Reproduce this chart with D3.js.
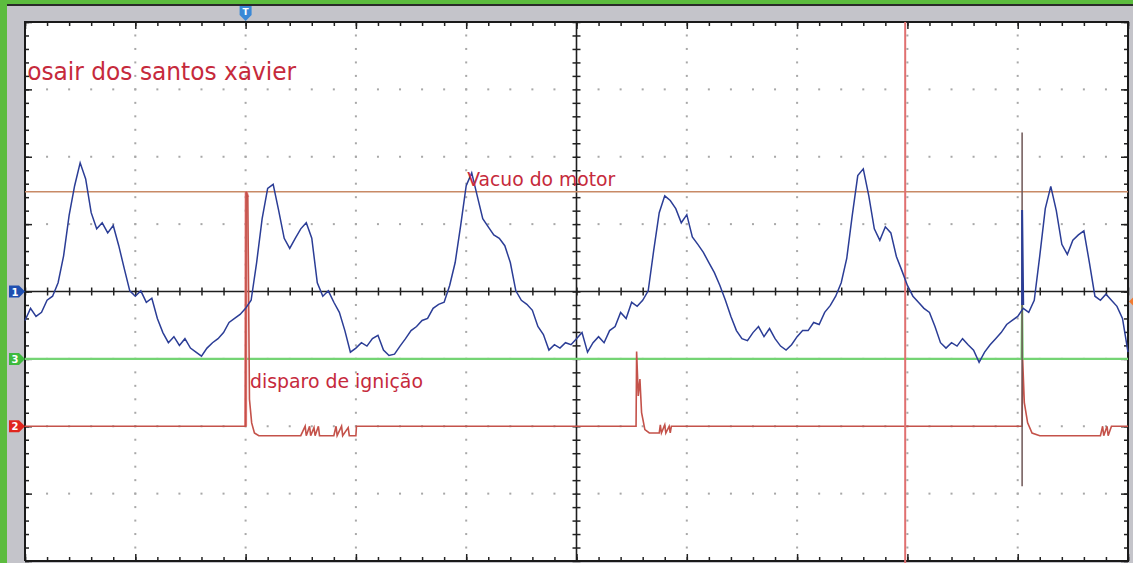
<!DOCTYPE html>
<html>
<head>
<meta charset="utf-8">
<script src="https://cdn.jsdelivr.net/npm/d3@7"></script>
<style>
  body { margin: 0; background: #c4c4ca; }
  svg { display: block; }
</style>
</head>
<body>
<script>
const W = 1133;
const H = 563;

// time in ms (10 ms/div), amplitude in divisions
const timeDomain = [0, 100];
const divDomain = [-4, 4];

// channel offsets (div)
const ch1Offset = 0;
const ch2Offset = -2;
const ch3Offset = -1;
const triggerLevel = 1.48;

// ch1 - vacuo do motor, sampled every 0.5 ms
const ch1Step = 0.5;
const ch1 = [
  -0.43, -0.25, -0.37, -0.31, -0.13, -0.07, 0.13, 0.53, 1.13, 1.57,
  1.91, 1.67, 1.17, 0.93, 1.02, 0.87, 0.98, 0.68, 0.34, 0.01,
  -0.07, 0.01, -0.16, -0.10, -0.40, -0.61, -0.76, -0.67, -0.80, -0.70,
  -0.84, -0.90, -0.96, -0.84, -0.76, -0.70, -0.61, -0.46, -0.40, -0.34,
  -0.25, -0.13, 0.43, 1.08, 1.53, 1.59, 1.20, 0.79, 0.64, 0.79,
  0.93, 1.02, 0.79, 0.13, -0.07, 0.01, -0.16, -0.31, -0.58, -0.90,
  -0.84, -0.76, -0.81, -0.70, -0.65, -0.87, -0.95, -0.93, -0.81, -0.70,
  -0.58, -0.52, -0.43, -0.40, -0.25, -0.19, -0.16, 0.09, 0.43, 0.98,
  1.57, 1.76, 1.42, 1.08, 0.96, 0.84, 0.79, 0.68, 0.43, 0.01,
  -0.13, -0.19, -0.28, -0.52, -0.64, -0.87, -0.79, -0.84, -0.76, -0.79,
  -0.70, -0.61, -0.90, -0.76, -0.67, -0.76, -0.58, -0.52, -0.31, -0.40,
  -0.16, -0.22, -0.13, 0.01, 0.61, 1.17, 1.42, 1.35, 1.23, 1.02,
  1.14, 0.81, 0.70, 0.58, 0.43, 0.28, 0.09, -0.13, -0.37, -0.58,
  -0.70, -0.73, -0.61, -0.52, -0.67, -0.55, -0.70, -0.81, -0.87, -0.79,
  -0.67, -0.58, -0.58, -0.46, -0.49, -0.31, -0.21, -0.07, 0.13, 0.49,
  1.13, 1.72, 1.82, 1.42, 0.93, 0.76, 0.96, 0.87, 0.52, 0.31,
  0.09, -0.07, -0.16, -0.25, -0.31, -0.52, -0.76, -0.84, -0.76, -0.81,
  -0.70, -0.79, -0.87, -1.05, -0.90, -0.79, -0.70, -0.61, -0.49, -0.43,
  -0.37, -0.25, -0.31, -0.13, 0.53, 1.23, 1.56, 1.20, 0.70, 0.55,
  0.76, 0.84, 0.90, 0.43, -0.07, -0.13, -0.04, -0.13, -0.22, -0.40,
  -0.90
];
const ch1GlitchTime = [90.4, 90.4, 90.5];
const ch1GlitchVolt = [-0.2, 1.21, -0.2];

// ch2 - disparo de ignição
const ch2Time = [
  0, 20.0, 20.05, 20.2, 20.35, 20.55, 20.8, 21.2,
  25.0, 25.4, 25.5, 25.8, 25.9, 26.2, 26.3, 26.6, 26.7,
  28.0, 28.2, 28.3, 28.7, 28.8, 29.3, 29.4, 30.0, 30.05,
  55.4, 55.45, 55.6, 55.75, 55.9, 56.2, 56.6,
  57.5, 57.6, 57.7, 58.0, 58.1, 58.4, 58.5, 58.6,
  90.4, 90.45, 90.6, 90.9, 91.3, 92.0,
  97.5, 97.7, 97.8, 98.1, 98.2, 98.5, 100
];
const ch2Volt = [
  0, 0, 3.48, 3.4, 0.4, 0.05, -0.1, -0.14,
  -0.14, 0, -0.14, 0, -0.14, -0.02, -0.14, 0, -0.14,
  -0.14, 0, -0.14, 0, -0.14, -0.02, -0.14, -0.14, 0,
  0, 1.11, 0.45, 0.7, 0.2, -0.05, -0.1,
  -0.1, 0.02, -0.1, 0.02, -0.1, 0, -0.1, 0,
  0, 0.99, 0.35, 0.05, -0.1, -0.14,
  -0.14, 0, -0.14, 0, -0.14, 0, 0
];
const ch2SpikeTime = [90.4, 90.4];
const ch2SpikeVolt = [4.36, -0.89];

// ch3
const ch3Time = [0, 90.35, 90.4, 90.45, 100];
const ch3Volt = [0, 0, 0.8, 0, 0];

// cursor
const cursorTime = 79.8;
const triggerTime = 20.0;

const x = d3.scaleLinear().domain(timeDomain).range([25, 1128]);
const y = d3.scaleLinear().domain(divDomain).range([561, 22]);

const minorX = d3.range(0, 100.01, 2);
const majorX = d3.range(0, 100.01, 10);
const minorY = d3.range(-4, 4.01, 0.2).map(v => +v.toFixed(2));
const majorY = d3.range(-4, 4.01, 1);

const svg = d3.select("body").append("svg")
  .attr("width", W)
  .attr("height", H);

// frame
svg.append("rect").attr("width", W).attr("height", H).attr("fill", "#c4c4ca");
svg.append("rect").attr("width", W).attr("height", 4).attr("fill", "#5cbc3e");
svg.append("rect").attr("width", 7).attr("height", H).attr("fill", "#5cbc3e");
svg.append("rect").attr("x", 7).attr("y", 4).attr("width", W - 7).attr("height", 2).attr("fill", "#2a2a2a");

svg.append("rect")
  .attr("x", x(0)).attr("y", y(4))
  .attr("width", x(100) - x(0)).attr("height", y(-4) - y(4))
  .attr("fill", "#ffffff");

// dotted grid
const dots = svg.append("g").attr("fill", "#a8a8a8");
majorX.filter(t => t > 0 && t < 100 && t !== 50).forEach(t => {
  minorY.filter(v => v > -4 && v < 4).forEach(v => {
    dots.append("rect").attr("x", x(t) - 1).attr("y", y(v) - 1).attr("width", 2).attr("height", 2);
  });
});
majorY.filter(v => v > -4 && v < 4 && v !== 0).forEach(v => {
  minorX.filter(t => t > 0 && t < 100).forEach(t => {
    dots.append("rect").attr("x", x(t) - 1).attr("y", y(v) - 1).attr("width", 2).attr("height", 2);
  });
});

function styleAxis(g) {
  g.select(".domain").remove();
  g.selectAll(".tick line").attr("stroke", "#222").attr("stroke-width", 1.5);
  g.selectAll("text").remove();
}

// border ticks
[[d3.axisBottom, y(4)], [d3.axisTop, y(-4)]].forEach(([ax, pos]) => {
  svg.append("g").attr("transform", `translate(0,${pos})`)
    .call(ax(x).tickValues(minorX).tickSize(4).tickFormat("")).call(styleAxis);
  svg.append("g").attr("transform", `translate(0,${pos})`)
    .call(ax(x).tickValues(majorX).tickSize(7).tickFormat("")).call(styleAxis);
});
[[d3.axisRight, x(0)], [d3.axisLeft, x(100)]].forEach(([ax, pos]) => {
  svg.append("g").attr("transform", `translate(${pos},0)`)
    .call(ax(y).tickValues(minorY).tickSize(4).tickFormat("")).call(styleAxis);
  svg.append("g").attr("transform", `translate(${pos},0)`)
    .call(ax(y).tickValues(majorY).tickSize(7).tickFormat("")).call(styleAxis);
});

// center cross with ticks
svg.append("g").attr("transform", `translate(0,${y(0) - 4})`)
  .call(d3.axisBottom(x).tickValues(minorX).tickSize(8).tickFormat("")).call(styleAxis);
svg.append("g").attr("transform", `translate(${x(50) - 4},0)`)
  .call(d3.axisRight(y).tickValues(minorY).tickSize(8).tickFormat("")).call(styleAxis);
svg.append("line")
  .attr("x1", x(0)).attr("x2", x(100)).attr("y1", y(0)).attr("y2", y(0))
  .attr("stroke", "#1e1e1e").attr("stroke-width", 1.6);
svg.append("line")
  .attr("x1", x(50)).attr("x2", x(50)).attr("y1", y(4)).attr("y2", y(-4))
  .attr("stroke", "#1e1e1e").attr("stroke-width", 1.6);

// plot border
svg.append("path")
  .attr("d", `M${x(0)},${y(-4)}V${y(4)}H${x(100)}V${y(-4)}H${x(0)}`)
  .attr("fill", "none").attr("stroke", "#1a1a1a").attr("stroke-width", 2);

// trigger level line
svg.append("line")
  .attr("x1", x(0)).attr("x2", x(100))
  .attr("y1", y(triggerLevel)).attr("y2", y(triggerLevel))
  .attr("stroke", "#c88a66").attr("stroke-width", 1.6);

// ch3 trace
const line = d3.line().x(d => x(d[0])).y(d => y(d[1]));
svg.append("path")
  .datum(ch3Time.map((t, i) => [t, ch3Volt[i] + ch3Offset]))
  .attr("d", line).attr("fill", "none")
  .attr("stroke", "#74d474").attr("stroke-width", 2.2);

// ch2 trace
const ch2Points = ch2Time.map((t, i) => [t, ch2Volt[i] + ch2Offset]);
svg.append("path")
  .datum(ch2Points.slice(1, 4))
  .attr("d", line).attr("fill", "none")
  .attr("stroke", "#e88080").attr("stroke-width", 3);
svg.append("path")
  .datum(ch2Points)
  .attr("d", line).attr("fill", "none")
  .attr("stroke", "#c4524a").attr("stroke-width", 1.6);
svg.append("path")
  .datum(ch2SpikeTime.map((t, i) => [t, ch2SpikeVolt[i] + ch2Offset]))
  .attr("d", line).attr("fill", "none")
  .attr("stroke", "#6e5656").attr("stroke-width", 1.5);

// cursor
svg.append("line")
  .attr("x1", x(cursorTime)).attr("x2", x(cursorTime))
  .attr("y1", y(4)).attr("y2", H)
  .attr("stroke", "#e07070").attr("stroke-width", 2);

// ch1 trace
svg.append("path")
  .datum(ch1.map((v, i) => [i * ch1Step, v + ch1Offset]))
  .attr("d", line).attr("fill", "none")
  .attr("stroke", "#2b3d96").attr("stroke-width", 1.5);
svg.append("path")
  .datum(ch1GlitchTime.map((t, i) => [t, ch1GlitchVolt[i] + ch1Offset]))
  .attr("d", line).attr("fill", "none")
  .attr("stroke", "#2b3d96").attr("stroke-width", 2);

// channel markers on the left
const markers = [
  { name: "1", off: ch1Offset, color: "#1f4fb0" },
  { name: "3", off: ch3Offset, color: "#3dba3d" },
  { name: "2", off: ch2Offset, color: "#e0261e" }
];
markers.forEach(m => {
  const yy = y(m.off);
  svg.append("path")
    .attr("d", `M9,${yy - 6}H19L25,${yy}L19,${yy + 6}H9Z`)
    .attr("fill", m.color);
  svg.append("text")
    .attr("x", 15).attr("y", yy + 4)
    .attr("text-anchor", "middle")
    .attr("font-family", "DejaVu Sans")
    .attr("font-size", 10).attr("font-weight", "bold")
    .attr("fill", "#fff").text(m.name);
});

// trigger marker on top
const tx = x(triggerTime);
svg.append("path")
  .attr("d", `M${tx - 6},6H${tx + 6}V15L${tx},21L${tx - 6},15Z`)
  .attr("fill", "#3a88d6");
svg.append("text")
  .attr("x", tx).attr("y", 15)
  .attr("text-anchor", "middle")
  .attr("font-family", "DejaVu Sans")
  .attr("font-size", 9).attr("font-weight", "bold")
  .attr("fill", "#fff").text("T");

// right marker
svg.append("path")
  .attr("d", `M${x(100) + 5},${y(-0.15) - 4}L${x(100) + 1},${y(-0.15)}L${x(100) + 5},${y(-0.15) + 4}Z`)
  .attr("fill", "#f07a30");

// labels
svg.append("text")
  .attr("x", x(0.2)).attr("y", y(3.14))
  .attr("font-family", "DejaVu Sans Condensed, DejaVu Sans")
  .attr("font-size", 24)
  .attr("textLength", 269).attr("lengthAdjust", "spacingAndGlyphs")
  .attr("fill", "#c62a3c").text("osair dos santos xavier");
svg.append("text")
  .attr("x", x(40.1)).attr("y", y(1.57))
  .attr("font-family", "DejaVu Sans Condensed, DejaVu Sans")
  .attr("font-size", 20)
  .attr("textLength", 148).attr("lengthAdjust", "spacingAndGlyphs")
  .attr("fill", "#c62a3c").text("Vacuo do motor");
svg.append("text")
  .attr("x", x(20.4)).attr("y", y(-1.43))
  .attr("font-family", "DejaVu Sans Condensed, DejaVu Sans")
  .attr("font-size", 20)
  .attr("textLength", 173).attr("lengthAdjust", "spacingAndGlyphs")
  .attr("fill", "#c62a3c").text("disparo de ignição");
</script>
</body>
</html>
